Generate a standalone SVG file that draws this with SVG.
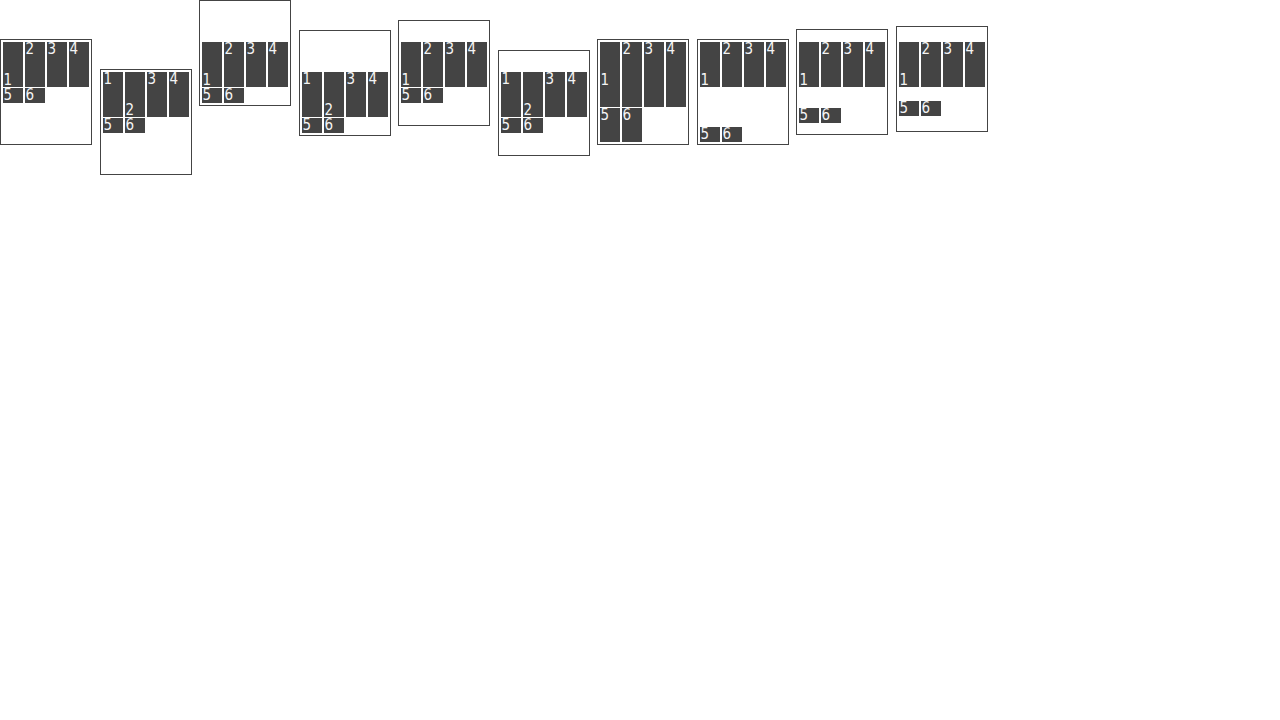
<svg xmlns="http://www.w3.org/2000/svg" width="1280" height="720" viewBox="0 0 1280 720">
<style>
.box{fill:#fff;stroke:#444;stroke-width:1}
.it{fill:#444}
.lb{fill:#f4f4f4;font-family:"DejaVu Sans Condensed","DejaVu Sans","Liberation Sans",sans-serif;font-stretch:condensed;font-size:15px}
</style>
<rect width="1280" height="720" fill="#fff"/>
<g id="box1">
<rect class="box" x="0.5" y="39.5" width="91" height="105"/>
<rect class="it" x="3" y="42" width="20" height="45"/><rect class="it" x="25" y="42" width="20" height="45"/><rect class="it" x="47" y="42" width="20" height="45"/><rect class="it" x="69" y="42" width="20" height="45"/>
<rect class="it" x="3" y="88" width="20" height="15"/><rect class="it" x="25" y="88" width="20" height="15"/>
<text class="lb" x="3.5" y="85">1</text><text class="lb" x="25.5" y="54">2</text><text class="lb" x="47.5" y="54">3</text><text class="lb" x="69.5" y="54">4</text>
<text class="lb" x="3.5" y="100">5</text><text class="lb" x="25.5" y="100">6</text>
</g>
<g id="box2">
<rect class="box" x="100.5" y="69.5" width="91" height="105"/>
<rect class="it" x="103" y="72" width="20" height="45"/><rect class="it" x="125" y="72" width="20" height="45"/><rect class="it" x="147" y="72" width="20" height="45"/><rect class="it" x="169" y="72" width="20" height="45"/>
<rect class="it" x="103" y="118" width="20" height="15"/><rect class="it" x="125" y="118" width="20" height="15"/>
<text class="lb" x="103.5" y="84">1</text><text class="lb" x="125.5" y="115">2</text><text class="lb" x="147.5" y="84">3</text><text class="lb" x="169.5" y="84">4</text>
<text class="lb" x="103.5" y="130">5</text><text class="lb" x="125.5" y="130">6</text>
</g>
<g id="box3">
<rect class="box" x="199.5" y="0.5" width="91" height="105"/>
<rect class="it" x="202" y="42" width="20" height="45"/><rect class="it" x="224" y="42" width="20" height="45"/><rect class="it" x="246" y="42" width="20" height="45"/><rect class="it" x="268" y="42" width="20" height="45"/>
<rect class="it" x="202" y="88" width="20" height="15"/><rect class="it" x="224" y="88" width="20" height="15"/>
<text class="lb" x="202.5" y="85">1</text><text class="lb" x="224.5" y="54">2</text><text class="lb" x="246.5" y="54">3</text><text class="lb" x="268.5" y="54">4</text>
<text class="lb" x="202.5" y="100">5</text><text class="lb" x="224.5" y="100">6</text>
</g>
<g id="box4">
<rect class="box" x="299.5" y="30.5" width="91" height="105"/>
<rect class="it" x="302" y="72" width="20" height="45"/><rect class="it" x="324" y="72" width="20" height="45"/><rect class="it" x="346" y="72" width="20" height="45"/><rect class="it" x="368" y="72" width="20" height="45"/>
<rect class="it" x="302" y="118" width="20" height="15"/><rect class="it" x="324" y="118" width="20" height="15"/>
<text class="lb" x="302.5" y="84">1</text><text class="lb" x="324.5" y="115">2</text><text class="lb" x="346.5" y="84">3</text><text class="lb" x="368.5" y="84">4</text>
<text class="lb" x="302.5" y="130">5</text><text class="lb" x="324.5" y="130">6</text>
</g>
<g id="box5">
<rect class="box" x="398.5" y="20.5" width="91" height="105"/>
<rect class="it" x="401" y="42" width="20" height="45"/><rect class="it" x="423" y="42" width="20" height="45"/><rect class="it" x="445" y="42" width="20" height="45"/><rect class="it" x="467" y="42" width="20" height="45"/>
<rect class="it" x="401" y="88" width="20" height="15"/><rect class="it" x="423" y="88" width="20" height="15"/>
<text class="lb" x="401.5" y="85">1</text><text class="lb" x="423.5" y="54">2</text><text class="lb" x="445.5" y="54">3</text><text class="lb" x="467.5" y="54">4</text>
<text class="lb" x="401.5" y="100">5</text><text class="lb" x="423.5" y="100">6</text>
</g>
<g id="box6">
<rect class="box" x="498.5" y="50.5" width="91" height="105"/>
<rect class="it" x="501" y="72" width="20" height="45"/><rect class="it" x="523" y="72" width="20" height="45"/><rect class="it" x="545" y="72" width="20" height="45"/><rect class="it" x="567" y="72" width="20" height="45"/>
<rect class="it" x="501" y="118" width="20" height="15"/><rect class="it" x="523" y="118" width="20" height="15"/>
<text class="lb" x="501.5" y="84">1</text><text class="lb" x="523.5" y="115">2</text><text class="lb" x="545.5" y="84">3</text><text class="lb" x="567.5" y="84">4</text>
<text class="lb" x="501.5" y="130">5</text><text class="lb" x="523.5" y="130">6</text>
</g>
<g id="box7">
<rect class="box" x="597.5" y="39.5" width="91" height="105"/>
<rect class="it" x="600" y="42" width="20" height="65"/><rect class="it" x="622" y="42" width="20" height="65"/><rect class="it" x="644" y="42" width="20" height="65"/><rect class="it" x="666" y="42" width="20" height="65"/>
<rect class="it" x="600" y="108" width="20" height="34"/><rect class="it" x="622" y="108" width="20" height="34"/>
<text class="lb" x="600.5" y="85">1</text><text class="lb" x="622.5" y="54">2</text><text class="lb" x="644.5" y="54">3</text><text class="lb" x="666.5" y="54">4</text>
<text class="lb" x="600.5" y="120">5</text><text class="lb" x="622.5" y="120">6</text>
</g>
<g id="box8">
<rect class="box" x="697.5" y="39.5" width="91" height="105"/>
<rect class="it" x="700" y="42" width="20" height="45"/><rect class="it" x="722" y="42" width="20" height="45"/><rect class="it" x="744" y="42" width="20" height="45"/><rect class="it" x="766" y="42" width="20" height="45"/>
<rect class="it" x="700" y="127" width="20" height="15"/><rect class="it" x="722" y="127" width="20" height="15"/>
<text class="lb" x="700.5" y="85">1</text><text class="lb" x="722.5" y="54">2</text><text class="lb" x="744.5" y="54">3</text><text class="lb" x="766.5" y="54">4</text>
<text class="lb" x="700.5" y="139">5</text><text class="lb" x="722.5" y="139">6</text>
</g>
<g id="box9">
<rect class="box" x="796.5" y="29.5" width="91" height="105"/>
<rect class="it" x="799" y="42" width="20" height="45"/><rect class="it" x="821" y="42" width="20" height="45"/><rect class="it" x="843" y="42" width="20" height="45"/><rect class="it" x="865" y="42" width="20" height="45"/>
<rect class="it" x="799" y="108" width="20" height="15"/><rect class="it" x="821" y="108" width="20" height="15"/>
<text class="lb" x="799.5" y="85">1</text><text class="lb" x="821.5" y="54">2</text><text class="lb" x="843.5" y="54">3</text><text class="lb" x="865.5" y="54">4</text>
<text class="lb" x="799.5" y="120">5</text><text class="lb" x="821.5" y="120">6</text>
</g>
<g id="box10">
<rect class="box" x="896.5" y="26.5" width="91" height="105"/>
<rect class="it" x="899" y="42" width="20" height="45"/><rect class="it" x="921" y="42" width="20" height="45"/><rect class="it" x="943" y="42" width="20" height="45"/><rect class="it" x="965" y="42" width="20" height="45"/>
<rect class="it" x="899" y="101" width="20" height="15"/><rect class="it" x="921" y="101" width="20" height="15"/>
<text class="lb" x="899.5" y="85">1</text><text class="lb" x="921.5" y="54">2</text><text class="lb" x="943.5" y="54">3</text><text class="lb" x="965.5" y="54">4</text>
<text class="lb" x="899.5" y="113">5</text><text class="lb" x="921.5" y="113">6</text>
</g>
<g id="connectors"/>
</svg>
